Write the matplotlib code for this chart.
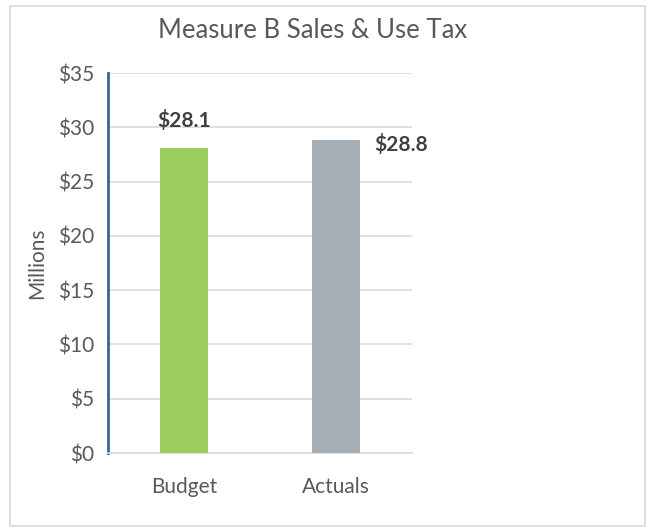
import matplotlib
matplotlib.use("Agg")
import matplotlib.pyplot as plt
from matplotlib.patches import Rectangle

categories = ["Budget", "Actuals"]
values = [28.1, 28.8]
labels = ["$28.1", "$28.8"]
colors = ["#9DCC5F", "#A5AEB7"]
yticks = [0, 5, 10, 15, 20, 25, 30, 35]

plt.rcParams['font.family'] = ['Lato', 'DejaVu Sans']
W, H = 654, 531
fig = plt.figure(figsize=(W/100, H/100), dpi=100)
fig.patches.append(Rectangle((10/W, 5/H), 635/W, 520/H, transform=fig.transFigure,
                             fill=False, edgecolor="#D9D9D9", linewidth=1.2))

ax = fig.add_axes([108/W, 1-453/H, 304/W, 380/H])
x = list(range(len(categories)))
ax.bar(x, values, width=0.32, color=colors, zorder=3)
ax.set_xlim(-0.5, 1.5)
ax.set_ylim(0, 35)
ax.set_yticks(yticks)
ax.set_yticklabels([f"${v}" for v in yticks])
ax.set_xticks(x)
ax.set_xticklabels(categories)
ax.grid(axis="y", color="#D9D9D9", linewidth=1.2, zorder=0)
for s in ["top", "right"]:
    ax.spines[s].set_visible(False)
ax.spines["left"].set_color("#3C6396")
ax.spines["left"].set_linewidth(2)
ax.spines["bottom"].set_color("#D9D9D9")
ax.spines["bottom"].set_linewidth(1.2)
ax.tick_params(axis="both", length=0, labelsize=15, colors="#595959")
ax.tick_params(axis="y", pad=10)
ax.tick_params(axis="x", pad=17)
ax.set_ylabel("Millions", fontsize=15, color="#595959", labelpad=8)

# data labels
ax.annotate(labels[0], (x[0], values[0]), xytext=(0, 12), textcoords="offset points",
            ha="center", va="bottom", fontsize=15, fontweight="bold", color="#404040")
ax.annotate(labels[1], (x[1], values[1]), xytext=(47, -3), textcoords="offset points",
            ha="center", va="center", fontsize=15, fontweight="bold", color="#404040")

fig.text(313/W, 1-30/H, "Measure B Sales & Use Tax", ha="center", va="center",
         fontsize=18.5, color="#595959")

fig.savefig("out.png", dpi=100)
